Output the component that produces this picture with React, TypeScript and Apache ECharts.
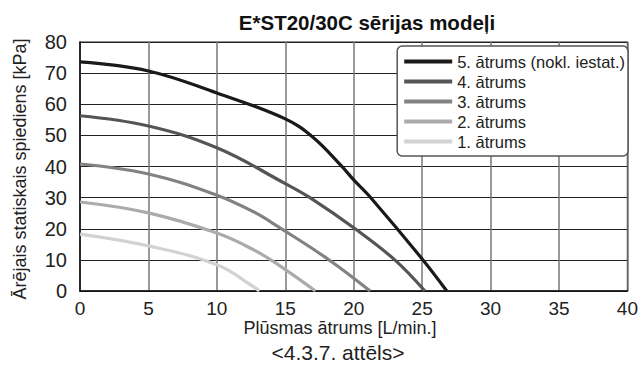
import React, { useEffect, useRef } from "react";
import * as echarts from "echarts";

const seriesNames = [
  "5. ātrums (nokl. iestat.)",
  "4. ātrums",
  "3. ātrums",
  "2. ātrums",
  "1. ātrums",
];
const seriesColors = ["#1a1a1a", "#555555", "#828282", "#ababab", "#d2d2d2"];

const speed5: number[][] = [
  [0, 73.6], [5, 70.7], [10, 63.6], [15, 55.3], [17, 49.5], [19.1, 40.2],
  [20, 35.7], [21.2, 30.2], [25, 10.3], [26.8, 0],
];
const speed4: number[][] = [
  [0, 56.3], [5, 53], [10, 46], [15, 34.5], [16.8, 30], [20.1, 20], [23, 10], [25.2, 0],
];
const speed3: number[][] = [
  [0, 40.8], [5, 37.6], [10, 30.8], [12.7, 25.4], [14.5, 20.6], [18.1, 10.3], [21.2, 0],
];
const speed2: number[][] = [
  [0, 28.6], [5, 25.1], [10, 18.6], [12.7, 13.2], [14.5, 8.4], [17.2, 0],
];
const speed1: number[][] = [
  [0, 18.3], [5, 14.5], [10, 8.4], [12.7, 1.3], [13.1, 0],
];
const allData = [speed5, speed4, speed3, speed2, speed1];

const titleText = "E*ST20/30C sērijas modeļi";
const xName = "Plūsmas ātrums [L/min.]";
const yName = "Ārējais statiskais spiediens [kPa]";
const captionText = "<4.3.7. attēls>";

const FONT = "'Liberation Sans', Arial, sans-serif";

export default function App() {
  const ref = useRef<HTMLDivElement>(null);
  useEffect(() => {
    if (!ref.current) return;
    const chart = echarts.init(ref.current, undefined, { renderer: "svg" });
    chart.setOption({
      animation: false,
      textStyle: { fontFamily: FONT },
      grid: {
        left: 80,
        right: 9,
        top: 42,
        bottom: 81,
        show: true,
        borderColor: "#222",
        borderWidth: 1.2,
      },
      xAxis: {
        type: "value",
        min: 0,
        max: 40,
        interval: 5,
        axisLine: { show: true, lineStyle: { color: "#111", width: 1.5 } },
        axisTick: { show: false },
        axisLabel: { fontSize: 19, color: "#222", margin: 8, fontFamily: FONT },
        splitLine: { show: true, lineStyle: { color: "#777", width: 1.5 } },
      },
      yAxis: {
        type: "value",
        min: 0,
        max: 80,
        interval: 10,
        axisLine: { show: true, lineStyle: { color: "#111", width: 1.5 } },
        axisTick: { show: false },
        axisLabel: { fontSize: 20, color: "#222", margin: 13, fontFamily: FONT },
        splitLine: { show: true, lineStyle: { color: "#222", width: 1.2 } },
      },
      legend: {
        orient: "vertical",
        right: 13,
        top: 46,
        icon: "rect",
        itemWidth: 48,
        itemHeight: 4,
        itemGap: 3,
        itemTextGap: 9,
        itemStyle: { borderWidth: 0 },
        textStyle: { fontSize: 16.5, color: "#222", lineHeight: 16, fontFamily: FONT },
        backgroundColor: "#fff",
        borderColor: "#555",
        borderWidth: 1.5,
        borderRadius: 5,
        padding: [7, 3, 6, 7],
        data: seriesNames,
      },
      graphic: [
        {
          type: "text",
          x: 367,
          y: 22,
          style: {
            text: titleText,
            font: `bold 20.5px ${FONT}`,
            fill: "#111",
            textAlign: "center",
            textVerticalAlign: "middle",
          },
        },
        {
          type: "text",
          x: 340,
          y: 328,
          style: {
            text: xName,
            font: `18px ${FONT}`,
            fill: "#222",
            textAlign: "center",
            textVerticalAlign: "middle",
          },
        },
        {
          type: "text",
          x: 20,
          y: 169,
          rotation: Math.PI / 2,
          style: {
            text: yName,
            font: `18px ${FONT}`,
            fill: "#222",
            textAlign: "center",
            textVerticalAlign: "middle",
          },
        },
        {
          type: "text",
          x: 338,
          y: 352,
          style: {
            text: captionText,
            font: `21px ${FONT}`,
            fill: "#222",
            textAlign: "center",
            textVerticalAlign: "middle",
          },
        },
      ],
      series: allData.map((d, i) => ({
        name: seriesNames[i],
        type: "line",
        data: d,
        smooth: 0.4,
        symbol: "none",
        z: 10 - i,
        lineStyle: { color: seriesColors[i], width: 3.2 },
        itemStyle: { color: seriesColors[i] },
      })),
    });
    return () => chart.dispose();
  }, []);
  return (
    <div
      ref={ref}
      style={{ position: "absolute", left: 0, top: 0, width: 641, height: 372 }}
    />
  );
}
